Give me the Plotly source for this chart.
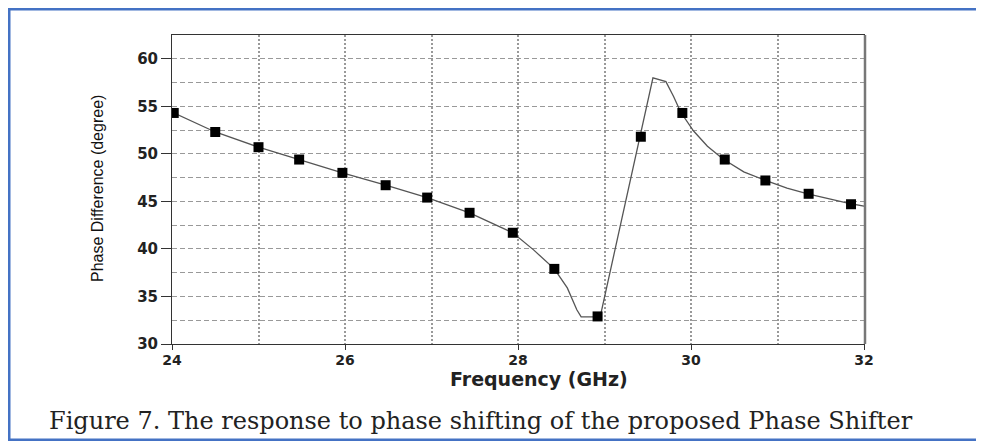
import plotly.graph_objects as go

# Curve
line_x = [24.0, 24.5, 25.0, 25.47, 25.97, 26.47, 26.95, 27.44, 27.94, 28.18, 28.42, 28.57, 28.68, 28.73,
          28.95, 29.56, 29.71, 29.8, 29.88, 30.03, 30.19, 30.37, 30.61, 30.86, 31.11, 31.35, 31.62, 31.85, 32.0]
line_y = [54.4, 52.3, 50.7, 49.4, 48.0, 46.7, 45.4, 43.8, 41.7, 39.9, 37.9, 35.9, 33.6, 32.85,
          32.85, 58.0, 57.6, 56.0, 54.4, 52.4, 50.8, 49.45, 48.1, 47.2, 46.4, 45.8, 45.2, 44.75, 44.5]

# Markers
mark_x = [24.02, 24.5, 25.0, 25.47, 25.97, 26.47, 26.95, 27.44, 27.94, 28.42, 28.92,
          29.42, 29.9, 30.39, 30.86, 31.36, 31.85]
mark_y = [54.3, 52.3, 50.7, 49.4, 48.0, 46.7, 45.4, 43.8, 41.7, 37.9, 32.9,
          51.8, 54.3, 49.4, 47.2, 45.8, 44.7]

x_ticks = [24, 26, 28, 30, 32]
y_ticks = [30, 35, 40, 45, 50, 55, 60]

x_title = "Frequency (GHz)"
y_title = "Phase Difference (degree)"
caption = "Figure 7. The response to phase shifting of the proposed Phase Shifter"

OFF = 8  # page body margin
W, H = 984 - 2 * OFF, 441 - OFF
L = 172 - OFF
T = 35 - OFF
R = W - (864 - OFF)
B = H - (344 - OFF)
PW, PH = W - L - R, H - T - B

def px(X):
    return (X - OFF - L) / PW

def py(Y):
    return (H - B - (Y - OFF)) / PH

fig = go.Figure()
fig.add_trace(go.Scatter(x=line_x, y=line_y, mode="lines",
                         line=dict(color="#555555", width=1.3), hoverinfo="skip"))
fig.add_trace(go.Scatter(x=mark_x, y=mark_y, mode="markers",
                         marker=dict(symbol="square", size=10, color="#000000")))

tickfont = dict(family="DejaVu Sans", size=15, color="#222222", weight="bold")
xtickfont = dict(family="DejaVu Sans", size=14, color="#222222", weight="bold")

fig.update_layout(
    width=W, height=H,
    margin=dict(l=L, r=R, t=T, b=B),
    paper_bgcolor="white", plot_bgcolor="white",
    showlegend=False,
    xaxis=dict(range=[24, 32], tickvals=x_ticks, ticktext=[str(v) for v in x_ticks],
               showgrid=False, zeroline=False,
               showline=True, linecolor="#333333", linewidth=1, mirror=True,
               ticks="outside", ticklen=5, tickcolor="#333333",
               tickfont=xtickfont, ticklabelstandoff=-2,
               minor=dict(dtick=1, tick0=24, showgrid=True, gridcolor="#999999",
                          griddash="2px,2px", gridwidth=1.5)),
    yaxis=dict(range=[30, 62.5], tickvals=y_ticks, ticktext=[str(v) for v in y_ticks],
               showgrid=False, zeroline=False,
               showline=True, linecolor="#333333", linewidth=1, mirror=True,
               ticks="outside", ticklen=10, tickcolor="#333333",
               tickfont=tickfont,
               minor=dict(dtick=2.5, tick0=30, showgrid=True, gridcolor="#999999",
                          griddash="5px,3px", gridwidth=1)),
)

shapes = [
    # thicker grey right frame
    dict(type="line", xref="paper", yref="paper", x0=px(865), x1=px(865), y0=0, y1=1,
         line=dict(color="#777777", width=2.5)),
    # blue outer frame (top, left, bottom)
    dict(type="rect", xref="paper", yref="paper", x0=px(8), x1=px(W + OFF), y0=py(8), y1=py(10.5),
         fillcolor="#4472C4", line=dict(width=0)),
    dict(type="rect", xref="paper", yref="paper", x0=px(8), x1=px(10.5), y0=py(8), y1=py(H + OFF),
         fillcolor="#4472C4", line=dict(width=0)),
    dict(type="rect", xref="paper", yref="paper", x0=px(8), x1=px(W + OFF), y0=py(438.5), y1=py(H + OFF),
         fillcolor="#4472C4", line=dict(width=0)),
]
fig.update_layout(shapes=shapes)

fig.add_annotation(text=x_title, xref="paper", yref="paper", x=px(539), y=py(367),
                   xanchor="center", yanchor="top", showarrow=False, borderpad=0,
                   font=dict(family="DejaVu Sans", size=19, color="#222222", weight="bold"))
fig.add_annotation(text=y_title, xref="paper", yref="paper", x=px(97), y=py(189),
                   xanchor="center", yanchor="middle", textangle=-90, showarrow=False,
                   font=dict(family="Liberation Sans, sans-serif", size=16, color="#111111"))
fig.add_annotation(text=caption, xref="paper", yref="paper", x=px(47), y=py(421),
                   xanchor="left", yanchor="middle", showarrow=False,
                   font=dict(family="DejaVu Serif", size=24, color="#222222"))

fig.write_html("out.html")
